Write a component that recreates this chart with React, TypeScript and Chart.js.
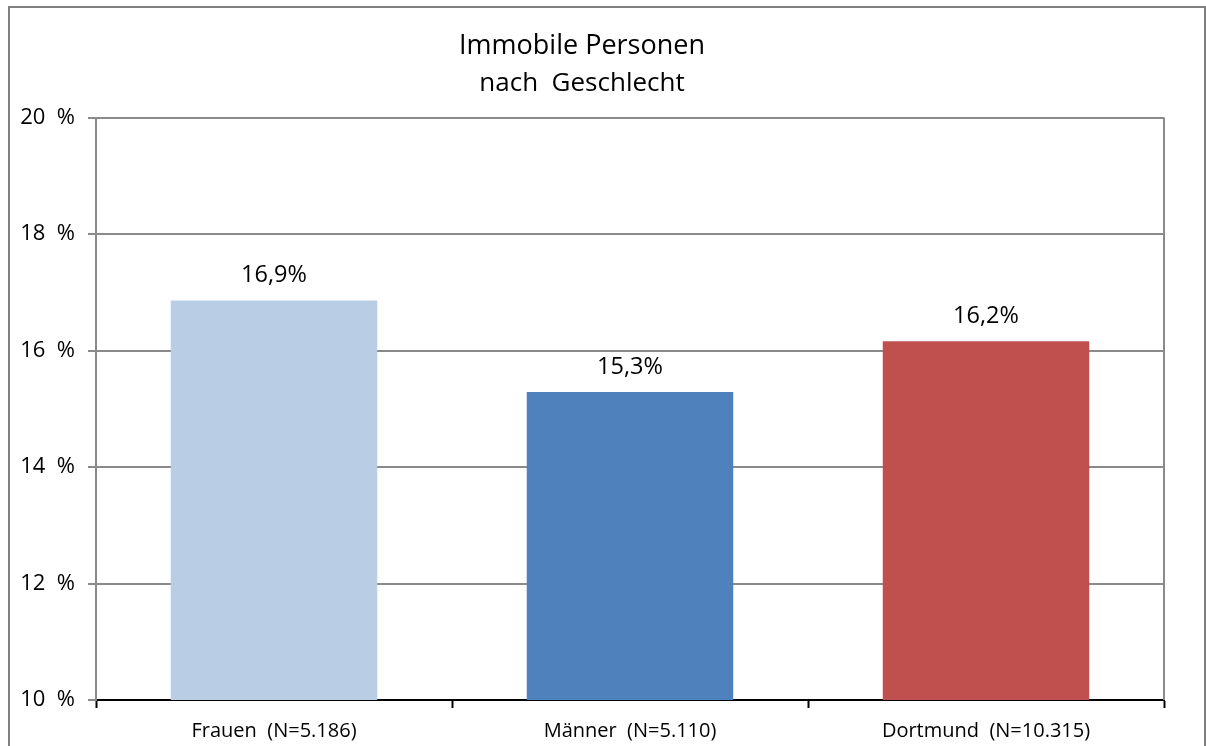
import React, { useEffect, useRef } from "react";
import { Chart, registerables } from "chart.js";

Chart.register(...registerables);

const categories = ["Frauen  (N=5.186)", "Männer  (N=5.110)", "Dortmund  (N=10.315)"];
const values = [16.86, 15.29, 16.16];
const barColors = ["#b9cde5", "#4f81bd", "#c0504d"];
const yTicks = [10, 12, 14, 16, 18, 20];
const titleText = "Immobile Personen";
const subtitleText = "nach  Geschlecht";

const FONT = "'Open Sans', 'DejaVu Sans', sans-serif";

const framePlugin = {
  id: "frame",
  beforeDraw(chart: any) {
    const ctx = chart.ctx;
    ctx.save();
    ctx.fillStyle = "#ffffff";
    ctx.fillRect(0, 0, chart.width, chart.height);
    ctx.strokeStyle = "#7f7f7f";
    ctx.lineWidth = 2;
    ctx.strokeRect(9, 7, 1196, 800);
    ctx.restore();
  },
  afterDraw(chart: any) {
    const { ctx, chartArea } = chart;
    ctx.save();
    ctx.strokeStyle = "#8a8a8a";
    ctx.lineWidth = 2;
    ctx.beginPath();
    ctx.moveTo(chartArea.right, chartArea.top);
    ctx.lineTo(chartArea.right, chartArea.bottom);
    ctx.stroke();
    ctx.restore();
  },
};

const labelPlugin = {
  id: "barLabels",
  afterDatasetsDraw(chart: any) {
    const ctx = chart.ctx;
    const meta = chart.getDatasetMeta(0);
    ctx.save();
    ctx.font = `500 23.5px ${FONT}`;
    ctx.fillStyle = "#000000";
    ctx.textAlign = "center";
    ctx.textBaseline = "alphabetic";
    meta.data.forEach((bar: any, i: number) => {
      const v = values[i];
      const txt = v.toFixed(1).replace(".", ",") + "%";
      ctx.fillText(txt, bar.x, bar.y - 18);
    });
    ctx.restore();
  },
};

export default function App() {
  const ref = useRef<HTMLCanvasElement>(null);
  useEffect(() => {
    if (!ref.current) return;
    const chart = new Chart(ref.current, {
      type: "bar",
      data: {
        labels: categories,
        datasets: [
          {
            data: values,
            backgroundColor: barColors,
            borderWidth: 0,
            barPercentage: 0.58,
            categoryPercentage: 1,
          },
        ],
      },
      options: {
        animation: false,
        responsive: false,
        maintainAspectRatio: false,
        layout: { padding: { left: 0, right: 42, top: 0, bottom: 0 } },
        plugins: {
          legend: { display: false },
          tooltip: { enabled: false },
          title: {
            display: true,
            text: titleText,
            color: "#000000",
            font: { family: FONT, size: 27, weight: "500" as any },
            padding: { top: 30, bottom: 0 },
          },
          subtitle: {
            display: true,
            text: subtitleText,
            color: "#000000",
            font: { family: FONT, size: 26, weight: "normal" as any },
            padding: { top: 6, bottom: 18 },
          },
        },
        scales: {
          x: {
            offset: true,
            grid: {
              offset: true,
              drawOnChartArea: false,
              drawTicks: true,
              tickLength: 8,
              tickColor: "#000000",
              tickWidth: 2,
            },
            border: { display: true, color: "#000000", width: 2 },
            ticks: {
              color: "#000000",
              font: { family: FONT, size: 20 },
              padding: 11,
              maxRotation: 0,
            },
            afterFit(scale: any) {
              scale.height = 46;
            },
          },
          y: {
            min: 10,
            max: 20,
            afterBuildTicks(scale: any) {
              scale.ticks = yTicks.map((v) => ({ value: v }));
            },
            grid: {
              color: "#8a8a8a",
              lineWidth: 2,
              drawTicks: true,
              tickLength: 8,
              tickColor: "#8a8a8a",
            },
            border: { display: true, color: "#8a8a8a", width: 2 },
            ticks: {
              color: "#000000",
              font: { family: FONT, size: 22 },
              padding: 13,
              callback: (v: any) => `${v}  %`,
            },
            afterFit(scale: any) {
              scale.width = 96;
            },
          },
        },
      },
      plugins: [framePlugin, labelPlugin],
    });
    return () => chart.destroy();
  }, []);
  return (
    <div style={{ position: "absolute", left: 0, top: 0, width: 1206, height: 746 }}>
      <canvas ref={ref} width={1206} height={746} style={{ display: "block" }} />
    </div>
  );
}
